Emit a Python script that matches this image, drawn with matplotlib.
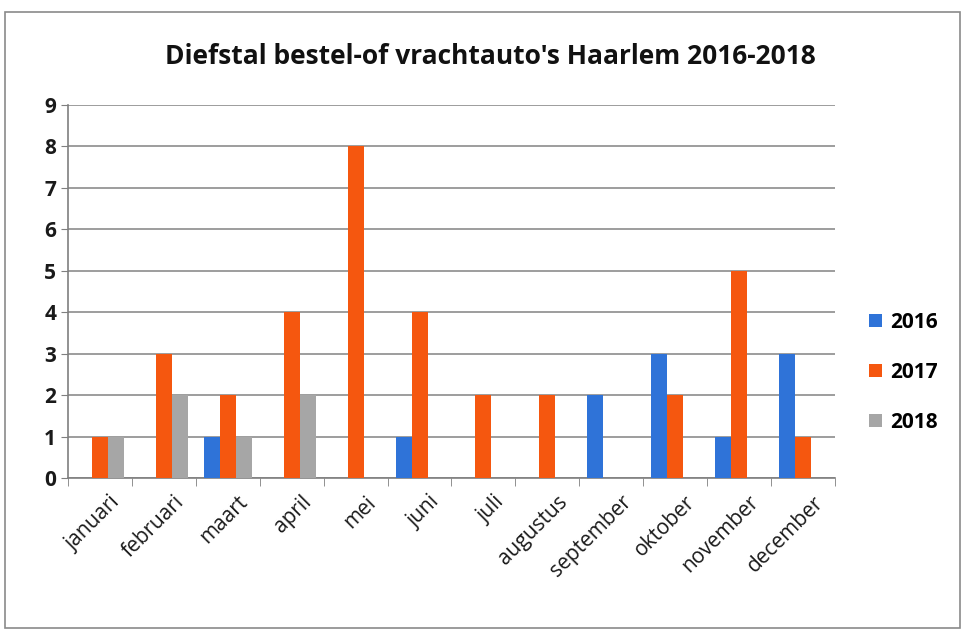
import numpy as np
import matplotlib
matplotlib.use("Agg")
import matplotlib.pyplot as plt
from matplotlib.patches import Rectangle

months = ["januari", "februari", "maart", "april", "mei", "juni", "juli",
          "augustus", "september", "oktober", "november", "december"]
y2016 = [0, 0, 1, 0, 0, 1, 0, 0, 2, 3, 1, 3]
y2017 = [1, 3, 2, 4, 8, 4, 2, 2, 0, 2, 5, 1]
y2018 = [1, 2, 1, 2, 0, 0, 0, 0, 0, 0, 0, 0]
years = ["2016", "2017", "2018"]
colors = ["#2F73D8", "#F5570F", "#A6A6A6"]

plt.rcParams['font.family'] = ['Open Sans', 'DejaVu Sans']

fig = plt.figure(figsize=(9.61, 6.31), dpi=100)
# outer frame of the scanned chart
fig.patches.append(Rectangle((5 / 961, 3 / 631), 955 / 961, 616 / 631,
                             transform=fig.transFigure, fill=False,
                             edgecolor="#8a8a8a", lw=1.2))

ax = fig.add_axes([0.0708, 0.2425, 0.798, 0.591])
x = np.arange(len(months))
w = 0.25
for i, (vals, lab, c) in enumerate(zip([y2016, y2017, y2018], years, colors)):
    ax.bar(x + (i - 1) * w, vals, width=w, color=c, label=lab, zorder=3)

ax.set_xlim(-0.5, len(months) - 0.5)
ax.set_ylim(0, 9)
ax.set_yticks(range(10))
ax.yaxis.grid(True, color="#8c8c8c", lw=1.2, zorder=0)
for s in ["top", "right"]:
    ax.spines[s].set_visible(False)
for s in ["left", "bottom"]:
    ax.spines[s].set_color("#7f7f7f")
    ax.spines[s].set_linewidth(1.2)

ax.set_xticks(x + 0.15)
ax.set_xticklabels(months, rotation=45, ha="right", rotation_mode="anchor",
                   fontsize=15, color="#1a1a1a")
ax.tick_params(axis="x", length=0, pad=10)
ax.set_xticks(np.arange(-0.5, len(months)), minor=True)
ax.tick_params(axis="x", which="minor", length=6, color="#7f7f7f")
ax.tick_params(axis="y", labelsize=15, length=5, color="#7f7f7f",
               labelcolor="#1a1a1a")
for t in ax.get_yticklabels():
    t.set_fontweight("bold")

fig.text(0.51, 0.91, "Diefstal bestel-of vrachtauto's Haarlem 2016-2018",
         ha="center", va="center", fontsize=19, fontweight="bold",
         color="#111111")

fig.legend(loc="center left", bbox_to_anchor=(0.885, 0.41), frameon=False,
           handlelength=0.6, handleheight=0.6,
           labelspacing=1.4, handletextpad=0.4,
           prop={"weight": "bold", "size": 15})

fig.savefig("out.png", dpi=100)
